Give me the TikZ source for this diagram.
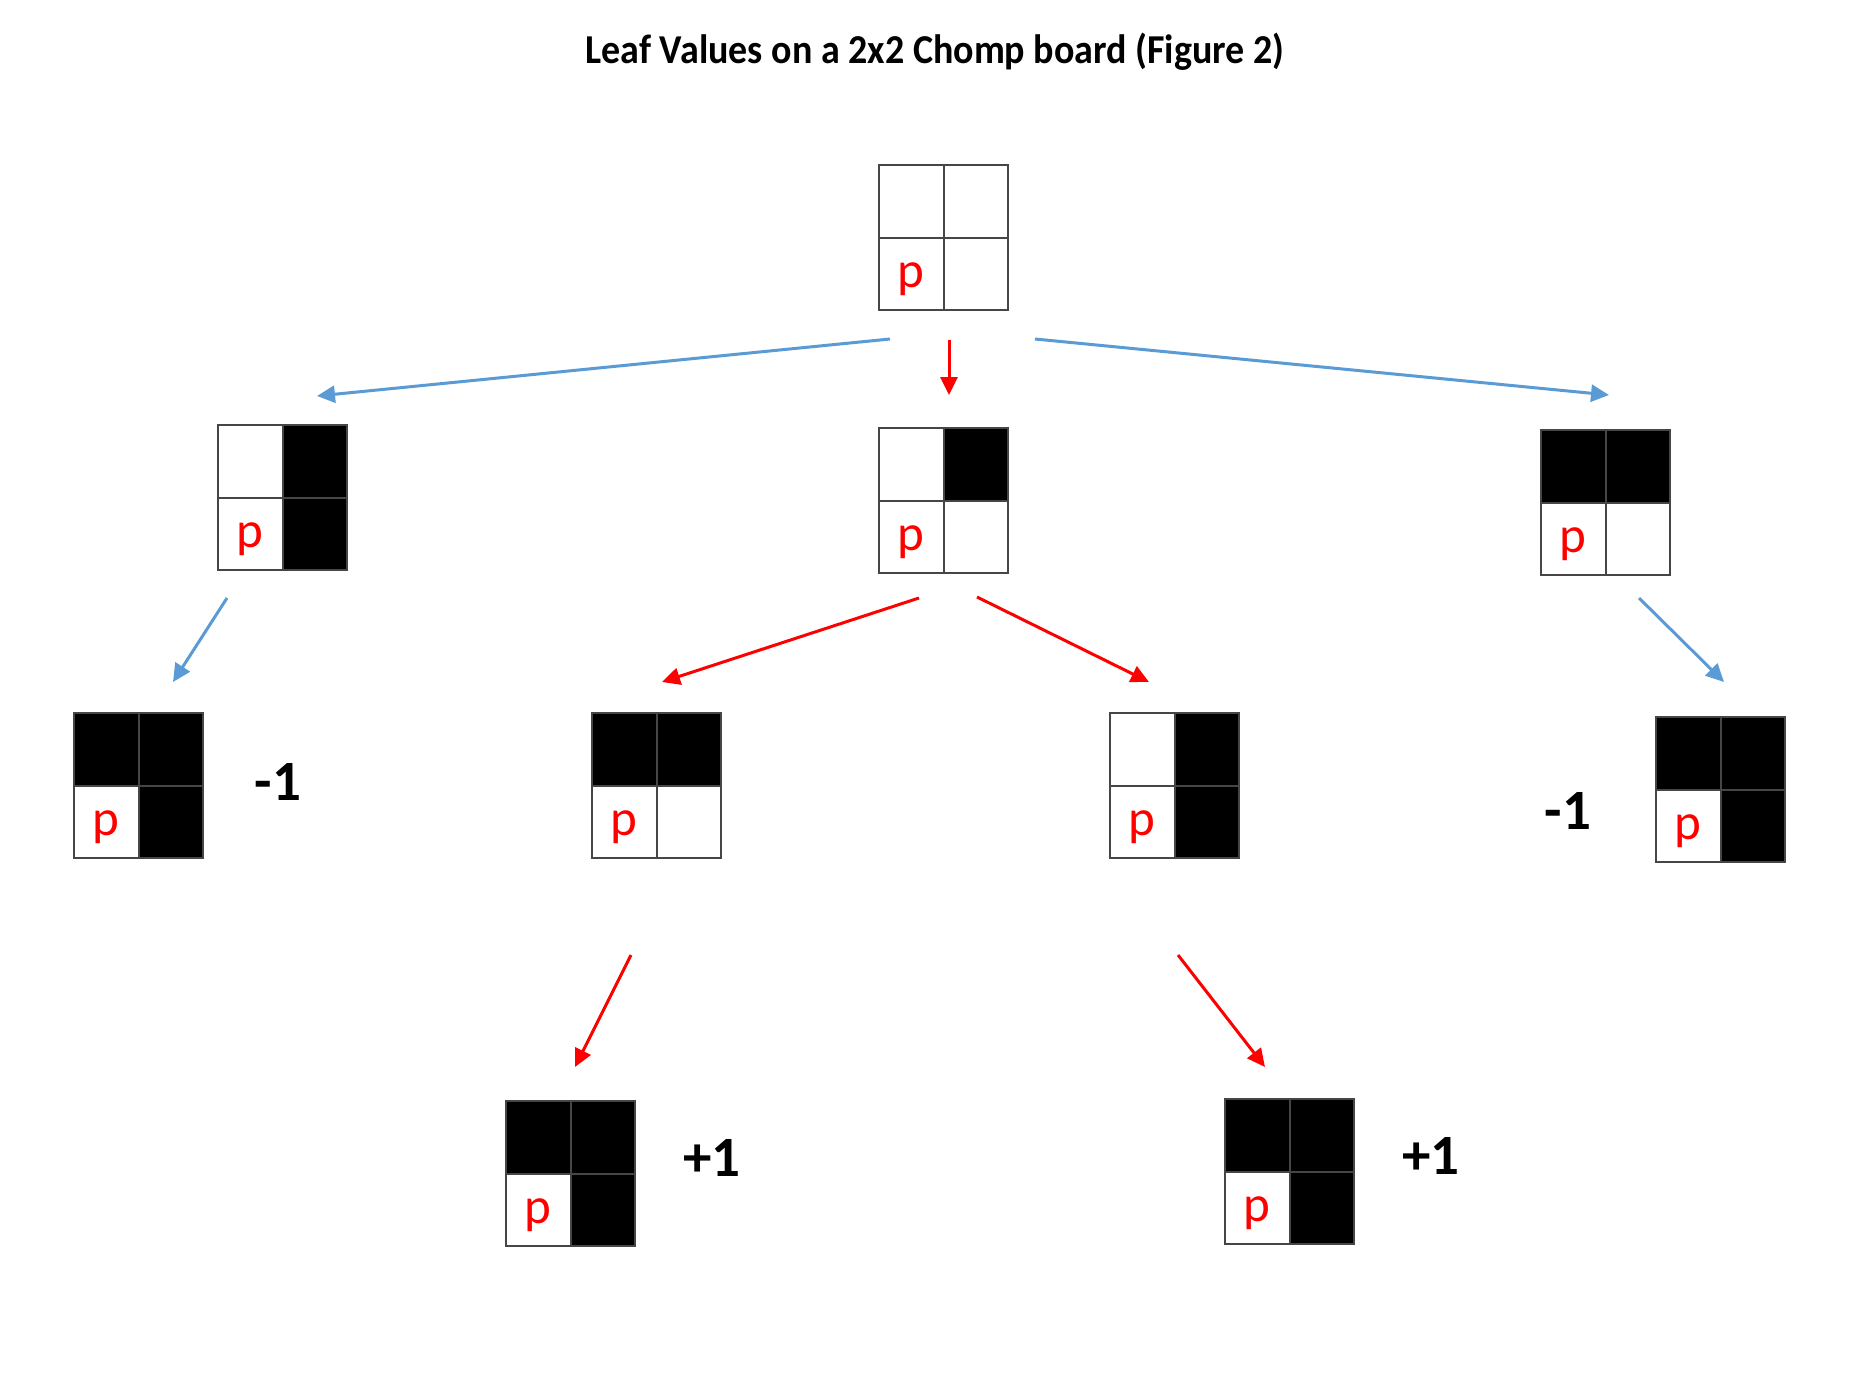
\documentclass[tikz,border=0pt]{standalone}
\usepackage{fontspec}
\setmainfont{Carlito}
\usetikzlibrary{arrows.meta,calc}
\definecolor{arrowblue}{RGB}{91,155,213}
\definecolor{gridgray}{RGB}{70,70,70}
\tikzset{
  boardframe/.style={minimum width=129pt,minimum height=145pt,inner sep=0pt,outer sep=0pt},
  gridline/.style={draw=gridgray,line width=2pt},
  pmark/.style={text=red,font=\fontsize{51}{60}\selectfont,inner sep=0pt,anchor=base},
  leafval/.style={font=\fontsize{57}{66}\selectfont\bfseries,inner sep=0pt},
  bluearrow/.style={draw=arrowblue,line width=3pt,-{Triangle[length=18pt,width=17pt]}},
  redarrow/.style={draw=red,line width=3pt,-{Triangle[length=18pt,width=17pt]}},
}
\newcommand\chompboard[6]{%
  \node[boardframe,anchor=north west] (#1) at (#2,#3) {};
  \ifnum#4=1 \fill[black] (#1.north west) rectangle (#1.center);\fi
  \ifnum#5=1 \fill[black] (#1.north) rectangle (#1.east);\fi
  \ifnum#6=1 \fill[black] (#1.center) rectangle (#1.south east);\fi
  \draw[gridline] (#1.north) -- (#1.south) (#1.west) -- (#1.east);
  \draw[gridline] (#1.north west) rectangle (#1.south east);
  \node[pmark,yshift=-14pt] (#1-p) at ($(#1.west)!0.5!(#1.south)$) {p};
}
\begin{document}
\begin{tikzpicture}[x=1pt,y=-1pt]
\useasboundingbox[fill=white] (0,0) rectangle (1876,1390);
\node[font=\fontsize{38}{46}\selectfont\bfseries,yscale=1.08,transform shape] (title) at (935,52) {Leaf Values on a 2x2 Chomp board (Figure 2)};
% boards
\chompboard{b0}{879}{165}{0}{0}{0}
\chompboard{b1}{218}{425}{0}{1}{1}
\chompboard{b2}{879}{428}{0}{1}{0}
\chompboard{b3}{1541}{430}{1}{1}{0}
\chompboard{c1}{74}{713}{1}{1}{1}
\chompboard{c2}{592}{713}{1}{1}{0}
\chompboard{c3}{1110}{713}{0}{1}{1}
\chompboard{c4}{1656}{717}{1}{1}{1}
\chompboard{d1}{506}{1101}{1}{1}{1}
\chompboard{d2}{1225}{1099}{1}{1}{1}
% leaf values
\node[leafval] (v1) at (278,782) {-1};
\node[leafval] (v2) at (1568,811) {-1};
\node[leafval] (v3) at (712,1158) {+1};
\node[leafval] (v4) at (1431,1156) {+1};
% arrow endpoints
\coordinate (a1s) at (890,339);  \coordinate (a1e) at (317,396);
\coordinate (a2s) at (949,340);  \coordinate (a2e) at (949,395);
\coordinate (a3s) at (1035,339); \coordinate (a3e) at (1609,395);
\coordinate (a4s) at (227,598);  \coordinate (a4e) at (173,682);
\coordinate (a5s) at (919,598);  \coordinate (a5e) at (662,682);
\coordinate (a6s) at (977,597);  \coordinate (a6e) at (1149,682);
\coordinate (a7s) at (1639,598); \coordinate (a7e) at (1724,682);
\coordinate (a8s) at (631,955);  \coordinate (a8e) at (575,1067);
\coordinate (a9s) at (1178,955); \coordinate (a9e) at (1265,1067);
\draw[bluearrow] (a1s) -- (a1e);
\draw[redarrow] (a2s) -- (a2e);
\draw[bluearrow] (a3s) -- (a3e);
\draw[bluearrow] (a4s) -- (a4e);
\draw[redarrow] (a5s) -- (a5e);
\draw[redarrow] (a6s) -- (a6e);
\draw[bluearrow] (a7s) -- (a7e);
\draw[redarrow] (a8s) -- (a8e);
\draw[redarrow] (a9s) -- (a9e);
\end{tikzpicture}
\end{document}
